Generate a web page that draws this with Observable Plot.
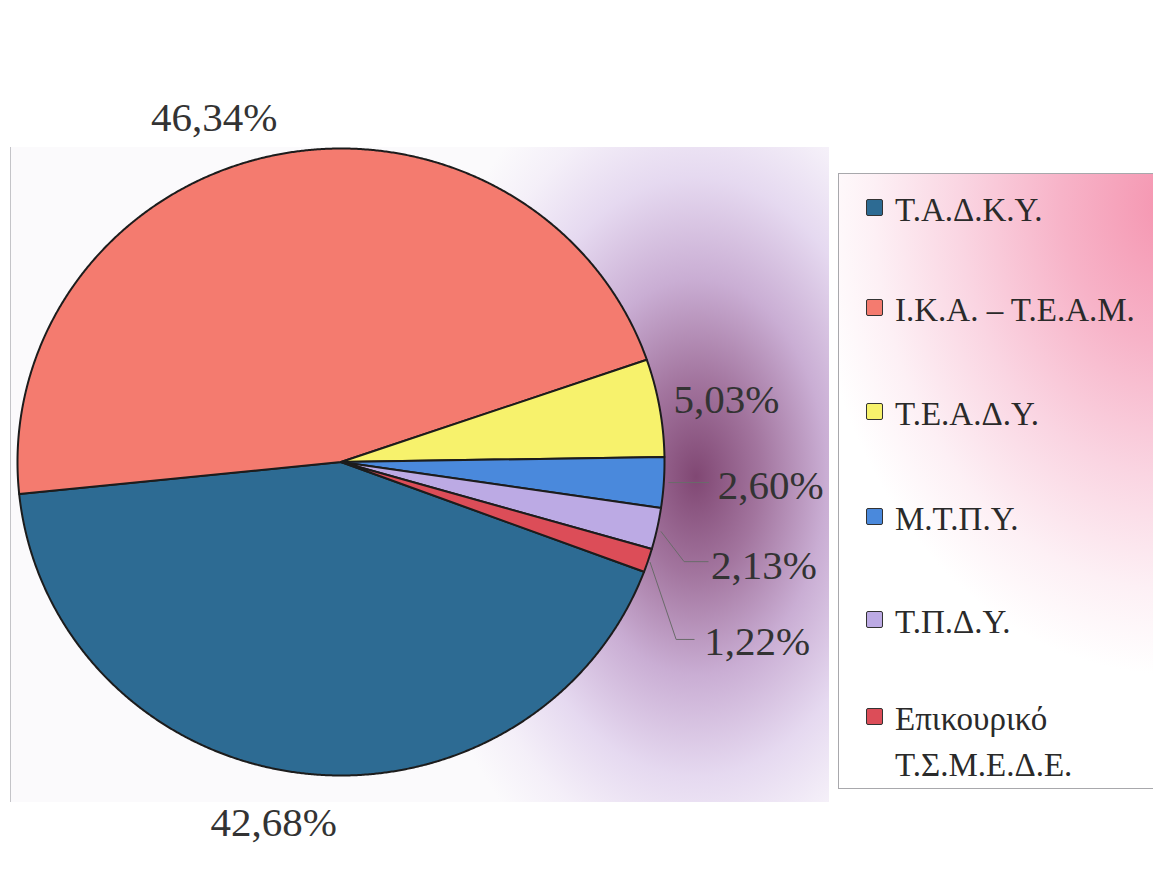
<!DOCTYPE html>
<html>
<head>
<meta charset="utf-8">
<script src="https://cdn.jsdelivr.net/npm/d3@7"></script>
<script src="https://cdn.jsdelivr.net/npm/@observablehq/plot@0.6"></script>
<style>
  html, body { margin: 0; padding: 0; background: #ffffff; }
  #wrap { position: relative; width: 1153px; height: 878px; overflow: hidden; background: #ffffff; font-family: "Times New Roman", Times, "Liberation Serif", "DejaVu Serif", serif; }
  #area { position: absolute; left: 10px; top: 147px; width: 818px; height: 655px;
    border-left: 1px solid #c4c4c8;
    background:
      radial-gradient(ellipse 290px 440px at 685px 330px,
        rgba(122,62,108,0.95) 0%, rgba(150,98,145,0.88) 22%, rgba(185,148,198,0.75) 45%,
        rgba(215,195,232,0.6) 68%, rgba(236,226,244,0.45) 86%, rgba(255,255,255,0) 100%),
      linear-gradient(#fbfafc, #fbfafc);
  }
  #chart { position: absolute; left: 0; top: 0; }
  #legend { position: absolute; left: 838px; top: 173px; width: 330px; height: 616px;
    border: 1px solid #a8a8ac; box-sizing: border-box;
    background: radial-gradient(ellipse 360px 470px at 330px 30px,
      #f595b0 0%, #f7b3c8 30%, #fad5e2 58%, #fdf0f5 82%, #ffffff 100%);
  }
  .item { position: absolute; left: 27px; line-height: 46px; font-size: 33px; color: #2a2a2a; white-space: pre-line; }
  .sw { position: absolute; left: 0; top: 12px; width: 15px; height: 15px; border: 1.5px solid #333; border-radius: 2px; }
  .tx { display: block; margin-left: 29px; }
</style>
</head>
<body>
<div id="wrap">
  <div id="area"></div>
  <div id="chart"></div>
  <div id="legend"></div>
</div>
<script>
// ---- data ----
const names = ["Τ.Α.Δ.Κ.Υ.", "Ι.Κ.Α. – Τ.Ε.Α.Μ.", "Τ.Ε.Α.Δ.Υ.", "Μ.Τ.Π.Υ.", "Τ.Π.Δ.Υ.", "Επικουρικό\nΤ.Σ.Μ.Ε.Δ.Ε."];
const shares = [42.68, 46.34, 5.03, 2.60, 2.13, 1.22];
const colors = ["#2d6b93", "#f47b6f", "#f7f26c", "#4a89dc", "#bcaae4", "#dc4d58"];

// ---- layout (pixel offsets from the slice's outer mid point) ----
const labelOffsets = [[-26, 50, "middle"], [-57, -38, "middle"], [14, -8, "start"], [54, 3, "start"], [54, 37, "start"], [56, 81, "start"]];
const leaderOffsets = [null, null, null, [[5, 0], [45, 0]], [[4, 3], [27, 33], [51, 33]], [[2, 2], [28, 79], [46, 79]]];
const xRange = [17, 664], yRange = [775, 148];
const rx = (xRange[1] - xRange[0]) / 2, ry = (yRange[0] - yRange[1]) / 2;
const START = 110.5 * Math.PI / 180;
const serif = "'Times New Roman', Times, 'Liberation Serif', 'DejaVu Serif', serif";

const arcs = d3.pie().sort(null).startAngle(START).endAngle(START + 2 * Math.PI)(shares);

// slice polygons in unit-circle coordinates
const poly = [];
arcs.forEach((a, i) => {
  const name = names[i];
  poly.push({name, x: 0, y: 0});
  const n = Math.max(2, Math.ceil((a.endAngle - a.startAngle) / (0.25 * Math.PI / 180)));
  for (let k = 0; k <= n; k++) {
    const t = a.startAngle + (a.endAngle - a.startAngle) * k / n;
    poly.push({name, x: Math.sin(t), y: Math.cos(t)});
  }
  poly.push({name, x: 0, y: 0});
});

const fmt = v => v.toFixed(2).replace(".", ",") + "%";
const labels = arcs.map((a, i) => {
  const m = (a.startAngle + a.endAngle) / 2;
  const [dx, dy, anchor] = labelOffsets[i];
  return {text: fmt(shares[i]), anchor, x: Math.sin(m) + dx / rx, y: Math.cos(m) - dy / ry};
});
const leaders = [];
arcs.forEach((a, i) => {
  if (!leaderOffsets[i]) return;
  const m = (a.startAngle + a.endAngle) / 2;
  leaderOffsets[i].forEach(([dx, dy]) => leaders.push({name: names[i], x: Math.sin(m) + dx / rx, y: Math.cos(m) - dy / ry}));
});

const chart = Plot.plot({
  width: 1153,
  height: 878,
  margin: 0,
  x: {domain: [-1, 1], range: xRange, axis: null},
  y: {domain: [-1, 1], range: yRange, axis: null},
  color: {domain: names, range: colors},
  style: {background: "transparent", fontFamily: serif},
  marks: [
    Plot.line(poly, {x: "x", y: "y", z: "name", fill: "name", stroke: "#1c1c1c", strokeWidth: 2, strokeLinejoin: "round"}),
    Plot.line(leaders, {x: "x", y: "y", z: "name", stroke: "#6a6a6a", strokeWidth: 1}),
    Plot.text(labels.filter(d => d.anchor === "middle"), {x: "x", y: "y", text: "text", textAnchor: "middle", fontSize: 41, fill: "#333", fontFamily: serif}),
    Plot.text(labels.filter(d => d.anchor === "start"), {x: "x", y: "y", text: "text", textAnchor: "start", fontSize: 41, fill: "#333", fontFamily: serif})
  ]
});
document.getElementById("chart").appendChild(chart);

// ---- legend ----
const legendTops = [13, 113, 217, 322, 425, 522];
const legend = d3.select("#legend");
names.forEach((n, i) => {
  const it = legend.append("div").attr("class", "item").style("top", legendTops[i] + "px");
  it.append("span").attr("class", "sw").style("background", colors[i]);
  it.append("span").attr("class", "tx").text(n);
});
</script>
</body>
</html>
